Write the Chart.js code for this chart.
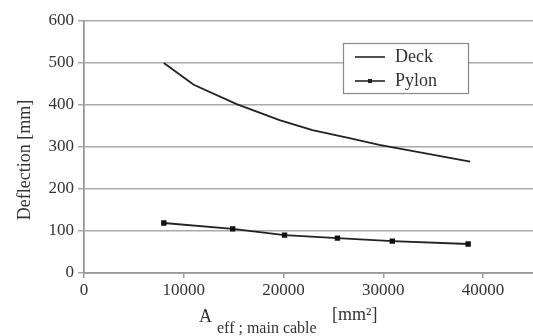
<!DOCTYPE html>
<html><head><meta charset="utf-8">
<script src="https://cdn.jsdelivr.net/npm/chart.js@4.4.1/dist/chart.umd.min.js"></script>
<style>html,body{margin:0;padding:0;background:#fff}#wrap{width:533px;height:336px}</style>
</head><body><div id="wrap"><canvas id="c" width="533" height="336"></canvas></div>
<script>
const deckX = [8000, 11000, 15300, 19600, 22900, 26600, 29600, 38700];
const deckY = [500, 448, 402, 364, 340, 321, 305, 265];
const pylonX = [8000, 14900, 20100, 25400, 30900, 38500];
const pylonY = [119, 105, 90, 83, 76, 69];
const xTicks = [0, 10000, 20000, 30000, 40000];
const yTicks = [0, 100, 200, 300, 400, 500, 600];
const seriesNames = ['Deck', 'Pylon'];
const yTitle = 'Deflection [mm]';
const xTitleMain = 'A';
const xTitleSub = 'eff ; main cable';
const xTitleUnit = '[mm\u00B2]';

const SERIF = '"Liberation Serif", "DejaVu Serif", serif';
const TXT = '#333';

const overlay = {
  id: 'overlay',
  afterDraw(chart) {
    const ctx = chart.ctx;
    ctx.save();
    ctx.fillStyle = TXT;
    ctx.font = '18px ' + SERIF;
    ctx.textAlign = 'center';
    ctx.textBaseline = 'middle';
    ctx.translate(25, 160);
    ctx.rotate(-Math.PI / 2);
    ctx.fillText(yTitle, 0, 0);
    ctx.restore();
    ctx.save();
    ctx.fillStyle = TXT;
    ctx.textAlign = 'left';
    ctx.textBaseline = 'alphabetic';
    ctx.font = '18px ' + SERIF;
    ctx.fillText(xTitleMain, 199, 322);
    ctx.font = '16px ' + SERIF;
    ctx.fillText(xTitleSub, 217, 333);
    ctx.font = '18px ' + SERIF;
    ctx.fillText(xTitleUnit, 332, 320);
    const bx = 343, by = 43, bw = 125, bh = 50;
    ctx.fillStyle = '#fff';
    ctx.fillRect(bx, by, bw, bh);
    ctx.strokeStyle = '#888';
    ctx.lineWidth = 1.2;
    ctx.strokeRect(bx + 0.5, by + 0.5, bw, bh);
    ctx.strokeStyle = '#222';
    ctx.lineWidth = 1.6;
    ctx.beginPath(); ctx.moveTo(355, 57); ctx.lineTo(385, 57); ctx.stroke();
    ctx.beginPath(); ctx.moveTo(355, 81); ctx.lineTo(385, 81); ctx.stroke();
    ctx.fillStyle = '#222';
    ctx.fillRect(368, 79, 4, 4);
    ctx.fillStyle = TXT;
    ctx.font = '18px ' + SERIF;
    ctx.textBaseline = 'middle';
    ctx.fillText(seriesNames[0], 395, 57);
    ctx.fillText(seriesNames[1], 395, 81);
    ctx.restore();
  }
};

new Chart(document.getElementById('c'), {
  type: 'scatter',
  data: {
    datasets: [
      { label: seriesNames[0], data: deckX.map((x, i) => ({x, y: deckY[i]})),
        showLine: true, borderColor: '#222', borderWidth: 1.8, pointRadius: 0, tension: 0 },
      { label: seriesNames[1], data: pylonX.map((x, i) => ({x, y: pylonY[i]})),
        showLine: true, borderColor: '#222', borderWidth: 1.8, pointStyle: 'rect',
        pointRadius: 2.5, pointBackgroundColor: '#111', pointBorderColor: '#111', tension: 0 }
    ]
  },
  options: {
    responsive: false, animation: false,
    layout: { autoPadding: false, padding: { top: 21, right: 0, left: 0, bottom: 0 } },
    plugins: { legend: { display: false }, tooltip: { enabled: false } },
    scales: {
      x: {
        type: 'linear', min: 0, max: 45000,
        afterBuildTicks: a => { a.ticks = xTicks.map(v => ({ value: v })); },
        ticks: { color: TXT, font: { family: SERIF, size: 17 }, padding: 2,
          maxRotation: 0, autoSkip: false, callback: v => String(v) },
        grid: { drawOnChartArea: false, drawTicks: true, tickLength: 5, color: '#999', lineWidth: 1.5 },
        border: { color: '#999', width: 1.8 },
        afterFit: s => { s.height = 63; }
      },
      y: {
        min: 0, max: 600,
        afterBuildTicks: a => { a.ticks = yTicks.map(v => ({ value: v })); },
        ticks: { color: TXT, font: { family: SERIF, size: 17 }, padding: 4, autoSkip: false },
        grid: { color: '#aaa', lineWidth: 1.5, tickLength: 6 },
        border: { color: '#999', width: 1.8 },
        afterFit: s => { s.width = 84; }
      }
    }
  },
  plugins: [overlay]
});
</script></body></html>
